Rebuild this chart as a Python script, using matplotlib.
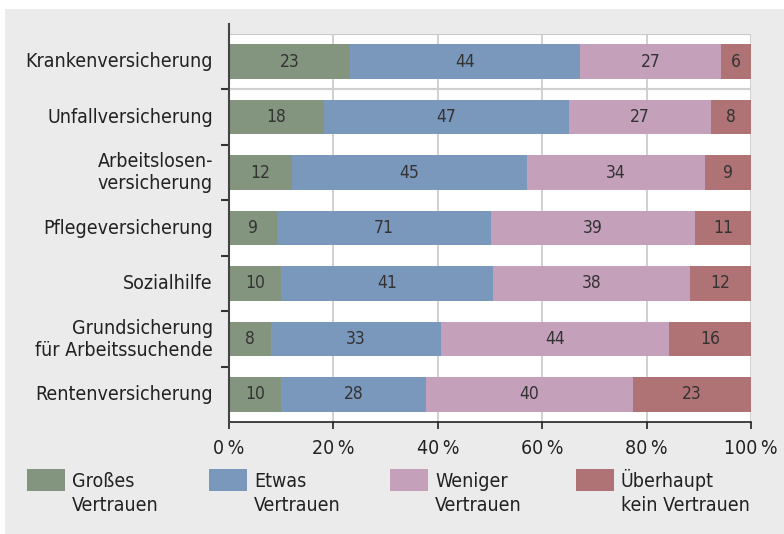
import numpy as np
import matplotlib
matplotlib.use('Agg')
import matplotlib.pyplot as plt
from matplotlib.patches import Rectangle

plt.rcParams['font.family'] = ['DejaVu Sans']
plt.rcParams['font.stretch'] = 'condensed'

# Data
categories = ['Krankenversicherung', 'Unfallversicherung', 'Arbeitslosen-\nversicherung',
              'Pflegeversicherung', 'Sozialhilfe', 'Grundsicherung\nfür Arbeitssuchende',
              'Rentenversicherung']
series = ['Großes\nVertrauen', 'Etwas\nVertrauen', 'Weniger\nVertrauen', 'Überhaupt\nkein Vertrauen']
# segment widths (percent) as drawn
gross    = [23.2, 18.2, 12.1, 9.2, 10.0, 8.0, 10.0]
etwas    = [44.0, 46.9, 45.0, 41.0, 40.6, 32.6, 27.7]
weniger  = [27.1, 27.2, 34.1, 39.1, 37.7, 43.7, 39.7]
kein     = [5.7, 7.7, 8.8, 10.7, 11.7, 15.7, 22.6]
# printed labels
lab_gross   = ['23', '18', '12', '9', '10', '8', '10']
lab_etwas   = ['44', '47', '45', '71', '41', '33', '28']
lab_weniger = ['27', '27', '34', '39', '38', '44', '40']
lab_kein    = ['6', '8', '9', '11', '12', '16', '23']
xticks = [0, 20, 40, 60, 80, 100]

colors = ['#84957f', '#7a98bb', '#c4a0bb', '#b07375']
bg = '#ebebeb'
W, H = 784, 534

fig = plt.figure(figsize=(W / 100, H / 100), dpi=100, facecolor='white')
fig.patches.append(Rectangle((5 / W, 0), 1, 1 - 9 / H, transform=fig.transFigure,
                             facecolor=bg, edgecolor='none', zorder=-10))

ax = fig.add_axes([229 / W, 1 - 422.25 / H, 522 / W, (422.25 - 33.75) / H])
ax.set_facecolor('white')

y = np.arange(len(categories))
vals = [gross, etwas, weniger, kein]
labs = [lab_gross, lab_etwas, lab_weniger, lab_kein]
left = np.zeros(len(categories))
for v, l, c in zip(vals, labs, colors):
    v = np.array(v)
    ax.barh(y, v, left=left, height=0.63, color=c, zorder=3)
    for yi, (xl, w, t) in enumerate(zip(left, v, l)):
        ax.text(xl + w / 2, yi, t, ha='center', va='center', fontsize=12.5,
                color='#333333', zorder=4)
    left += v

ax.set_xlim(0, 100)
ax.set_ylim(len(categories) - 0.5, -0.5)

# grid
for xv in xticks[1:]:
    ax.axvline(xv, color='#c8c8c8', lw=1.2, zorder=1)
ax.axhline(-0.5, color='#c8c8c8', lw=1.5, zorder=1)
ax.axhline(0.5, color='#d0d0d0', lw=1.5, zorder=1)

for s in ['top', 'right']:
    ax.spines[s].set_visible(False)
ax.spines['left'].set_visible(False)
ax.spines['bottom'].set_color('#222222')
ax.spines['bottom'].set_linewidth(1.2)
# left axis line extends a bit above plot area
ax.plot([0, 0], [0, 1 + 9.5 / 388.5], transform=ax.transAxes, color='#444444',
        lw=1.5, clip_on=False, zorder=5)

ax.set_xticks(xticks)
ax.set_xticklabels([f'{v}\u2009%' for v in xticks], fontsize=14, color='#222222')
ax.tick_params(axis='x', length=5, width=1.2, color='#222222', pad=7)

ax.set_yticks(np.arange(len(categories) - 1) + 0.5, minor=False)
ax.set_yticklabels([])
ax.tick_params(axis='y', length=6, width=1.5, color='#333333')
for yi, cat in enumerate(categories):
    ax.text(-16 / 5.22, yi, cat, ha='right', va='center', fontsize=14,
            color='#222222', linespacing=1.2)

# legend
lx = [27, 209, 390, 576]
for x0, name, c in zip(lx, series, colors):
    fig.patches.append(Rectangle((x0 / W, 1 - 491 / H), 38 / W, 22 / H,
                                 transform=fig.transFigure, facecolor=c,
                                 edgecolor='none', zorder=2))
    for k, line in enumerate(name.split('\n')):
        fig.text((x0 + 45) / W, 1 - (487 + 24 * k) / H, line, ha='left',
                 va='baseline', fontsize=14, color='#222222')

fig.savefig('out.png', dpi=100, facecolor='white')
